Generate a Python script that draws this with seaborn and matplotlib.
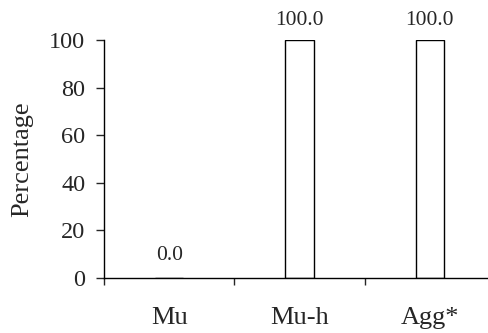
import matplotlib
matplotlib.use("Agg")
import matplotlib.pyplot as plt
import seaborn as sns
import pandas as pd

# datos
categorias = ["Mu", "Mu-h", "Agg*"]
porcentajes = [0.0, 100.0, 100.0]
etiquetas_y = [0, 20, 40, 60, 80, 100]

data = pd.DataFrame({"Grupo": categorias, "Porcentaje": porcentajes})

sns.set_style("ticks")
plt.rcParams["font.family"] = ["Liberation Serif", "DejaVu Serif"]

fig = plt.figure(figsize=(4.88, 3.33), dpi=100)
ax = fig.add_axes([104 / 488, 55 / 333, 391 / 488, 238 / 333])

sns.barplot(data=data, x="Grupo", y="Porcentaje", ax=ax, width=0.215,
            color="white", edgecolor="black", linewidth=1.0, saturation=1)

# etiquetas de valor encima de cada barra
for barra, v in zip(ax.patches, porcentajes):
    desplaz = 9.5 if v == 0 else 7
    ax.annotate(f"{v:.1f}", (barra.get_x() + barra.get_width() / 2, v),
                xytext=(0, desplaz), textcoords="offset points",
                ha="center", va="bottom", fontsize=15.5)

ax.set_xlim(-0.5, 2.5)
ax.set_ylim(0, 100)
ax.set_yticks(etiquetas_y)
ax.tick_params(axis="y", labelsize=17.5, length=5.5, width=1.0, direction="out", pad=8)

# marcas del eje x entre categorias, etiquetas en el centro
ax.set_xticks([-0.5, 0.5, 1.5])
ax.set_xticklabels([])
ax.set_xticks([0, 1, 2], minor=True)
ax.set_xticklabels(categorias, minor=True)
ax.tick_params(axis="x", which="major", length=5, width=1.0, direction="out")
ax.tick_params(axis="x", which="minor", length=0, labelsize=19, pad=21)

ax.set_xlabel("")
ax.set_ylabel("Percentage", fontsize=19)
ax.yaxis.set_label_coords(-(104 - 33) / 391, 0.5)

for s in ["top", "right"]:
    ax.spines[s].set_visible(False)
for s in ["left", "bottom"]:
    ax.spines[s].set_linewidth(1.0)
    ax.spines[s].set_color("black")

plt.savefig("out.png", dpi=100)
